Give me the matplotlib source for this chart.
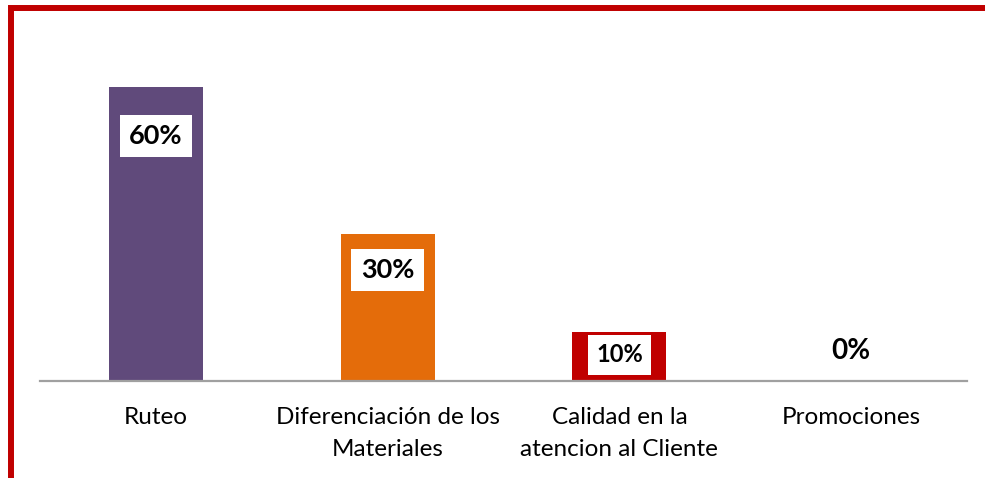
import matplotlib.pyplot as plt
from matplotlib.patches import Rectangle

categories = ["Ruteo", "Diferenciación de los\nMateriales",
              "Calidad en la\natencion al Cliente", "Promociones"]
values = [60, 30, 10, 0]
labels = ["60%", "30%", "10%", "0%"]
colors = ["#604A7B", "#E46C0A", "#C00000", "#FFFFFF"]

W, H = 985, 478
fig = plt.figure(figsize=(W / 100, H / 100), dpi=100)
ax = fig.add_axes([40 / W, 1 - 381 / H, 927 / W, (381 - 62.5) / H])

x = range(len(values))
ax.bar(x, values, width=0.405, color=colors, zorder=2)
ax.set_xlim(-0.5, len(values) - 0.5)
ax.set_ylim(0, 65)

# value labels: white boxes inside the bar tops, the empty bar gets plain text
offsets = [-49, -36, -23, 30]   # px from bar top to label centre
sizes = [19.5, 19.5, 17, 20]
for i, (v, lab) in enumerate(zip(values, labels)):
    box = dict(boxstyle="square,pad=0.35", fc="white", ec="none") if v > 0 else None
    ax.annotate(lab, (i, v), xytext=(0, offsets[i] * 0.72), textcoords="offset points",
                ha="center", va="center", fontsize=sizes[i], fontweight="bold",
                family="Lato", bbox=box, zorder=3)

for s in ["top", "right", "left"]:
    ax.spines[s].set_visible(False)
ax.spines["bottom"].set_color("#A0A0A0")
ax.spines["bottom"].set_linewidth(1.6)
ax.set_yticks([])
ax.set_xticks(list(x))
ax.set_xticklabels(categories, fontsize=17.5, family="Lato", linespacing=1.62)
ax.tick_params(axis="x", length=0, pad=19)

# red frame around the chart area
fig.patches.append(Rectangle((10.5 / W, -0.1), 1.2, 1 - 8 / H + 0.1,
                             transform=fig.transFigure, fill=False,
                             ec="#C00000", lw=4.3, zorder=10))

fig.savefig("out.png", dpi=100)
